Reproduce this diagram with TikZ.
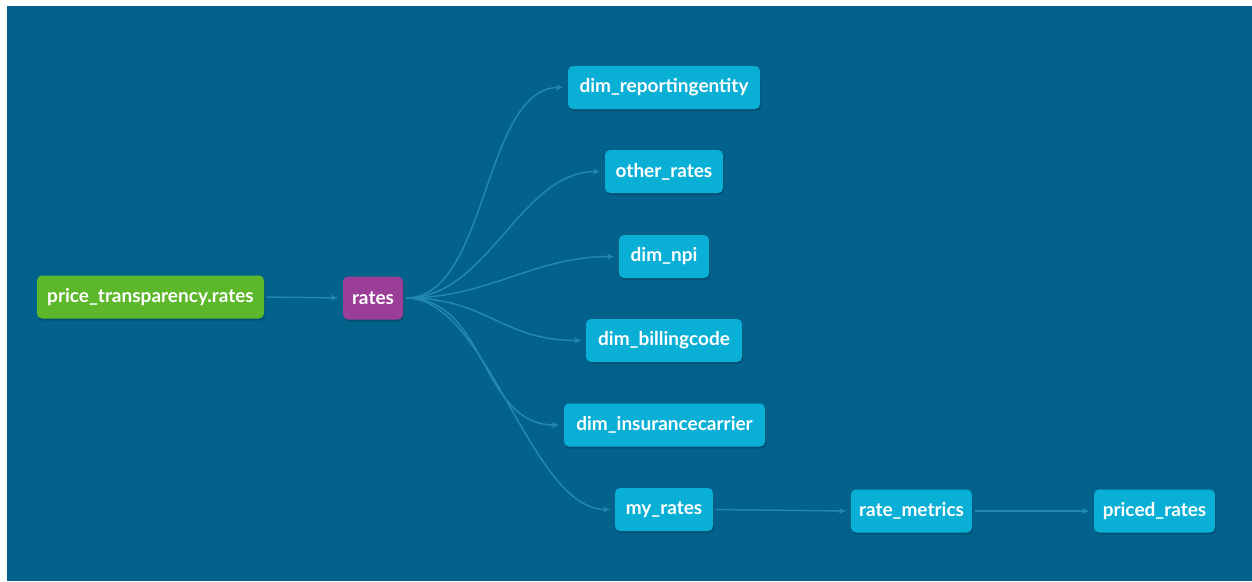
\documentclass[tikz,border=0pt]{standalone}
\usepackage{fontspec}
\setmainfont{Lato}[UprightFont=* Bold]
\usetikzlibrary{arrows.meta,shadows}
\definecolor{bgblue}{HTML}{03628C}
\definecolor{nodecyan}{HTML}{0AAFD6}
\definecolor{srcgreen}{HTML}{5CB82A}
\definecolor{rtpurple}{HTML}{9B3E97}
\definecolor{edgeblue}{HTML}{2088B3}
\tikzset{
  model/.style={rectangle, rounded corners=5pt, fill=nodecyan, text=white,
    font=\fontsize{19}{21}\selectfont, minimum height=43pt, inner sep=0pt,
    drop shadow={shadow xshift=0.8pt, shadow yshift=-2pt, fill=black, opacity=0.18}},
  source/.style={model, fill=srcgreen},
  seed/.style={model, fill=rtpurple},
  flow/.style={draw=edgeblue, line width=1.5pt, -{Stealth[length=7pt,width=6pt]}, shorten >=5pt, shorten <=3pt},
}
\begin{document}
\begin{tikzpicture}[x=1pt,y=-1pt]
\useasboundingbox (0,0) rectangle (1252,581);
\fill[white] (0,0) rectangle (1252,581);
\fill[bgblue] (7,6) rectangle (1252,581);

\node[source, minimum width=227pt] (src) at (150.5,297) {price\_transparency.rates};
\node[seed, minimum width=60pt] (rates) at (373,298) {rates};
\node[model, minimum width=192pt] (rep) at (664,87.5) {dim\_reportingentity};
\node[model, minimum width=118pt] (other) at (664,171.5) {other\_rates};
\node[model, minimum width=90pt] (npi) at (664,256.5) {dim\_npi};
\node[model, minimum width=156pt] (bill) at (664,340.5) {dim\_billingcode};
\node[model, minimum width=201pt] (ins) at (664.5,425) {dim\_insurancecarrier};
\node[model, minimum width=98pt] (my) at (664,509.5) {my\_rates};
\node[model, minimum width=121pt] (met) at (911.5,511) {rate\_metrics};
\node[model, minimum width=121pt] (priced) at (1154.5,511) {priced\_rates};

\draw[flow] (src.east) -- (rates.west);
\foreach \t in {rep,other,npi,bill,ins,my}
  \draw[flow] (rates.east) .. controls +(85,0) and +(-85,0) .. (\t.west);
\draw[flow] (my.east) -- (met.west);
\draw[flow] (met.east) -- (priced.west);
\end{tikzpicture}
\end{document}
